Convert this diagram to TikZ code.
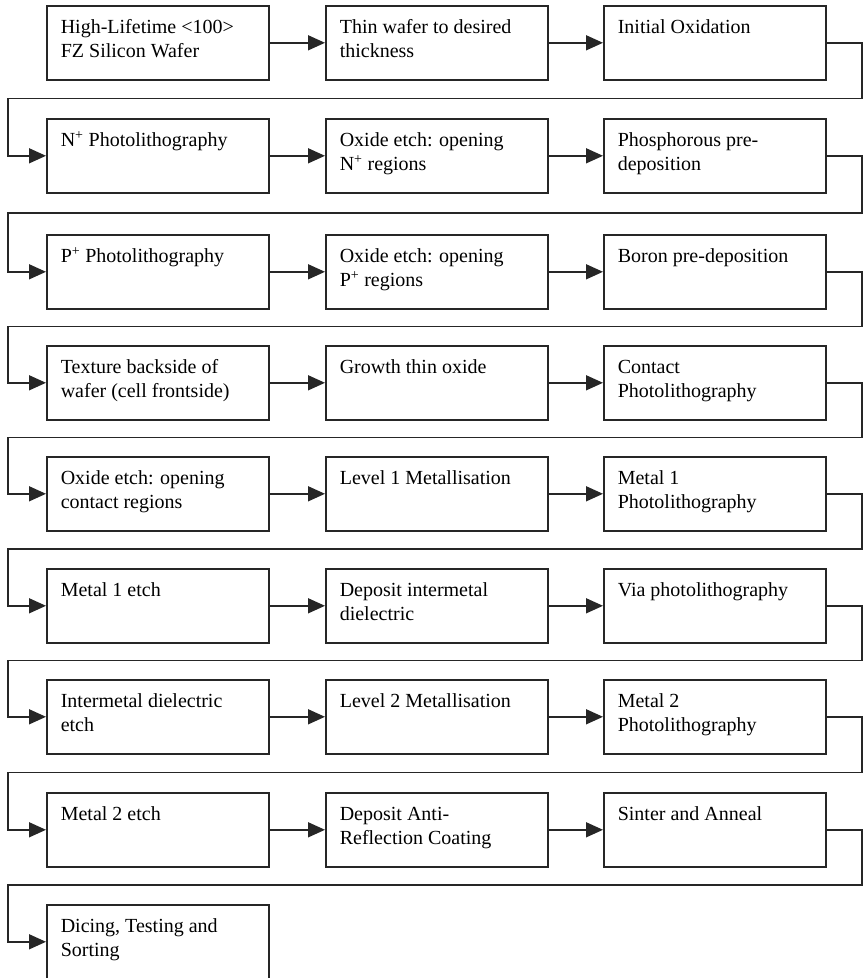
\documentclass[tikz,border=0pt]{standalone}
\usepackage{fontspec}
\setmainfont{Liberation Serif}
\usetikzlibrary{arrows.meta}
\newcommand\boxtext[1]{\parbox[c][74pt][t]{194pt}{\raggedright\rule{0pt}{28pt}#1}}
\tikzset{
  stepbox/.style={draw=black!85, line width=1.6pt, inner xsep=14pt, inner ysep=0pt,
    anchor=north west, font=\fontsize{20}{24}\selectfont},
  flow/.style={draw=black!85, line width=1.5pt, -{Triangle[length=17pt,width=15pt]}},
}
\begin{document}
\begin{tikzpicture}[x=1pt,y=1pt]
\useasboundingbox (0,0) rectangle (863,-978);
% row 1
\node[stepbox] (b1) at (46,-5) {\boxtext{High-Lifetime <100>\\FZ Silicon Wafer}};
\node[stepbox] (b2) at (325,-5) {\boxtext{Thin wafer to desired\\thickness}};
\node[stepbox] (b3) at (603,-5) {\boxtext{Initial Oxidation}};
% row 2
\node[stepbox] (b4) at (46,-118) {\boxtext{N\textsuperscript{+} Photolithography}};
\node[stepbox] (b5) at (325,-118) {\boxtext{Oxide etch: opening\\N\textsuperscript{+} regions}};
\node[stepbox] (b6) at (603,-118) {\boxtext{Phosphorous pre-\\deposition}};
% row 3
\node[stepbox] (b7) at (46,-234) {\boxtext{P\textsuperscript{+} Photolithography}};
\node[stepbox] (b8) at (325,-234) {\boxtext{Oxide etch: opening\\P\textsuperscript{+} regions}};
\node[stepbox] (b9) at (603,-234) {\boxtext{Boron pre-deposition}};
% row 4
\node[stepbox] (b10) at (46,-345) {\boxtext{Texture backside of\\wafer (cell frontside)}};
\node[stepbox] (b11) at (325,-345) {\boxtext{Growth thin oxide}};
\node[stepbox] (b12) at (603,-345) {\boxtext{Contact\\Photolithography}};
% row 5
\node[stepbox] (b13) at (46,-456) {\boxtext{Oxide etch: opening\\contact regions}};
\node[stepbox] (b14) at (325,-456) {\boxtext{Level 1 Metallisation}};
\node[stepbox] (b15) at (603,-456) {\boxtext{Metal 1\\Photolithography}};
% row 6
\node[stepbox] (b16) at (46,-568) {\boxtext{Metal 1 etch}};
\node[stepbox] (b17) at (325,-568) {\boxtext{Deposit intermetal\\dielectric}};
\node[stepbox] (b18) at (603,-568) {\boxtext{Via photolithography}};
% row 7
\node[stepbox] (b19) at (46,-679) {\boxtext{Intermetal dielectric\\etch}};
\node[stepbox] (b20) at (325,-679) {\boxtext{Level 2 Metallisation}};
\node[stepbox] (b21) at (603,-679) {\boxtext{Metal 2\\Photolithography}};
% row 8
\node[stepbox] (b22) at (46,-792) {\boxtext{Metal 2 etch}};
\node[stepbox] (b23) at (325,-792) {\boxtext{Deposit Anti-\\Reflection Coating}};
\node[stepbox] (b24) at (603,-792) {\boxtext{Sinter and Anneal}};
% row 9
\node[stepbox] (b25) at (46,-904) {\boxtext{Dicing, Testing and\\Sorting}};
% horizontal arrows
\foreach \a/\b in {b1/b2,b2/b3,b4/b5,b5/b6,b7/b8,b8/b9,b10/b11,b11/b12,b13/b14,b14/b15,b16/b17,b17/b18,b19/b20,b20/b21,b22/b23,b23/b24}
  \draw[flow] (\a.east) -- (\b.west);
% return connectors
\foreach \a/\b/\y [count=\i] in {b3/b4/98.5,b6/b7/213,b9/b10/326.5,b12/b13/437.5,b15/b16/549,b18/b19/660.5,b21/b22/772.5,b24/b25/885}{
  \coordinate (r\i) at (862,-\y);
  \coordinate (l\i) at (8,-\y);
  \draw[flow] (\a.east) -| (r\i) -- (l\i) |- (\b.west);
}
\end{tikzpicture}
\end{document}
